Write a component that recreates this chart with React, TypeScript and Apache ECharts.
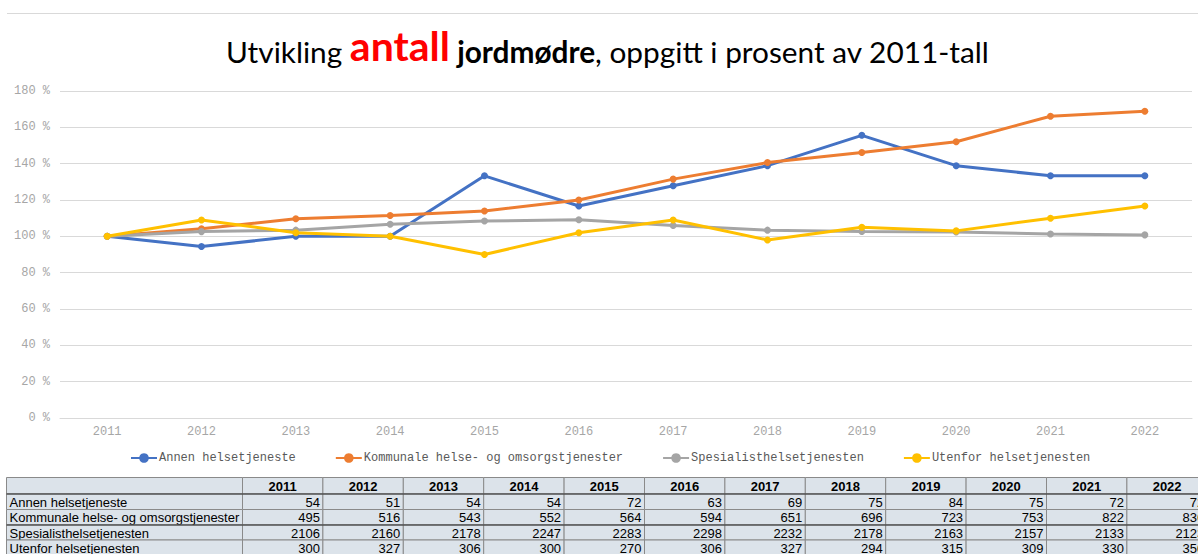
import React, { useEffect, useRef } from "react";
import * as echarts from "echarts";

const years = ["2011", "2012", "2013", "2014", "2015", "2016", "2017", "2018", "2019", "2020", "2021", "2022"];

const seriesNames = [
  "Annen helsetjeneste",
  "Kommunale helse- og omsorgstjenester",
  "Spesialisthelsetjenesten",
  "Utenfor helsetjenesten",
];

// Percent of 2011 value
const annenPct = [100, 94.4, 100, 100, 133.3, 116.7, 127.8, 138.9, 155.6, 138.9, 133.3, 133.3];
const kommunalePct = [100, 104.2, 109.7, 111.5, 113.9, 120.0, 131.5, 140.6, 146.1, 152.1, 166.1, 168.9];
const spesialistPct = [100, 102.6, 103.4, 106.7, 108.4, 109.1, 106.0, 103.4, 102.7, 102.4, 101.3, 100.8];
const utenforPct = [100, 109, 102, 100, 90, 102, 109, 98, 105, 103, 110, 116.7];

// Counts shown in the table below the chart
const annenCount = [54, 51, 54, 54, 72, 63, 69, 75, 84, 75, 72, 72];
const kommunaleCount = [495, 516, 543, 552, 564, 594, 651, 696, 723, 753, 822, 836];
const spesialistCount = [2106, 2160, 2178, 2247, 2283, 2298, 2232, 2178, 2163, 2157, 2133, 2123];
const utenforCount = [300, 327, 306, 300, 270, 306, 327, 294, 315, 309, 330, 350];

const yTicks = [0, 20, 40, 60, 80, 100, 120, 140, 160, 180];

const colors = ["#4472C4", "#ED7D31", "#A5A5A5", "#FFC000"];

function buildTable(): any[] {
  const els: any[] = [];
  const x0 = 6.5;
  const firstW = 236;
  const colW = 80.4;
  const rowTops = [477.5, 494, 509.5, 525, 540];
  const rowH = [16.5, 15.5, 15.5, 15, 15.5];
  const bg = "#DCE3EA";
  const border = "#8a8a8a";
  const rows = [annenCount, kommunaleCount, spesialistCount, utenforCount];
  const font = "'Liberation Sans', Arial, sans-serif";
  for (let r = 0; r < 5; r++) {
    const y = rowTops[r];
    const h = rowH[r];
    els.push({
      type: "rect",
      shape: { x: x0, y, width: firstW, height: h },
      style: { fill: bg, stroke: border, lineWidth: 1 },
      silent: true,
    });
    if (r > 0) {
      els.push({
        type: "text",
        x: x0 + 3,
        y: y + h / 2 + 0.5,
        style: {
          text: seriesNames[r - 1],
          fontFamily: font,
          fontSize: 13,
          fill: "#000",
          align: "left",
          verticalAlign: "middle",
        },
        silent: true,
      });
    }
    for (let c = 0; c < years.length; c++) {
      const cx = x0 + firstW + c * colW;
      els.push({
        type: "rect",
        shape: { x: cx, y, width: colW, height: h },
        style: { fill: bg, stroke: border, lineWidth: 1 },
        silent: true,
      });
      if (r === 0) {
        els.push({
          type: "text",
          x: cx + colW / 2,
          y: y + h / 2 + 0.5,
          style: {
            text: years[c],
            fontFamily: font,
            fontSize: 13,
            fontWeight: "bold",
            fill: "#000",
            align: "center",
            verticalAlign: "middle",
          },
          silent: true,
        });
      } else {
        els.push({
          type: "text",
          x: cx + colW - 3,
          y: y + h / 2 + 0.5,
          style: {
            text: String(rows[r - 1][c]),
            fontFamily: font,
            fontSize: 13,
            fill: "#000",
            align: "right",
            verticalAlign: "middle",
          },
          silent: true,
        });
      }
    }
  }
  els.push({
    type: "line",
    shape: { x1: x0, y1: 494, x2: 1198, y2: 494 },
    style: { stroke: "#333", lineWidth: 1.2 },
    silent: true,
  });
  els.push({
    type: "line",
    shape: { x1: x0, y1: 525, x2: 1198, y2: 525 },
    style: { stroke: "#333", lineWidth: 1.2 },
    silent: true,
  });
  return els;
}

export default function App() {
  const ref = useRef<HTMLDivElement>(null);
  useEffect(() => {
    if (!ref.current) return;
    const chart = echarts.init(ref.current, null, { renderer: "svg" });
    const pctSeries = [annenPct, kommunalePct, spesialistPct, utenforPct];
    const mono = "'Liberation Mono', 'Courier New', monospace";
    const titleFont = "Lato, 'Open Sans', sans-serif";
    chart.setOption({
      animation: false,
      backgroundColor: "#ffffff",
      title: {
        left: 226,
        top: 24,
        padding: 0,
        text: "{a|Utvikling }{b|antall}{c| jordmødre}{a|, oppgitt i prosent av 2011-tall}",
        textStyle: {
          fontWeight: "normal",
          rich: {
            a: { fontFamily: titleFont, fontSize: 29.8, fontWeight: "normal", color: "#000", lineHeight: 42, verticalAlign: "bottom" },
            b: { fontFamily: titleFont, fontSize: 41, fontWeight: "bold", color: "#FF0000", lineHeight: 42, verticalAlign: "bottom" },
            c: { fontFamily: titleFont, fontSize: 29.8, fontWeight: "bold", color: "#000", lineHeight: 42, verticalAlign: "bottom" },
          },
        },
      },
      legend: {
        left: 130,
        top: 452,
        padding: 0,
        itemWidth: 26,
        itemHeight: 12,
        itemGap: 39,
        data: seriesNames,
        textStyle: { fontFamily: mono, fontSize: 12, color: "#595959", padding: [0, 0, 0, -3] },
      },
      grid: { left: 60, right: 6, top: 91, bottom: 136, containLabel: false },
      xAxis: {
        type: "category",
        data: years,
        boundaryGap: true,
        axisLine: { lineStyle: { color: "#D9D9D9", width: 1 } },
        axisTick: { show: false },
        axisLabel: { fontFamily: mono, fontSize: 12, color: "#A6A6A6", margin: 8 },
      },
      yAxis: {
        type: "value",
        min: yTicks[0],
        max: yTicks[yTicks.length - 1],
        interval: 20,
        axisLine: { show: false },
        axisTick: { show: false },
        splitLine: { lineStyle: { color: "#D9D9D9", width: 1 } },
        axisLabel: { fontFamily: mono, fontSize: 12, color: "#A6A6A6", margin: 10, formatter: "{value} %" },
      },
      series: seriesNames.map((name, i) => ({
        name,
        type: "line",
        data: pctSeries[i],
        color: colors[i],
        lineStyle: { width: 3, color: colors[i] },
        itemStyle: { color: colors[i] },
        symbol: "circle",
        symbolSize: 7,
        showSymbol: true,
        z: i === 3 ? 5 : 2 + i,
      })),
      graphic: [
        {
          type: "line",
          shape: { x1: 7, y1: 13.5, x2: 1198, y2: 13.5 },
          style: { stroke: "#D9D9D9", lineWidth: 1 },
          silent: true,
        },
        ...buildTable(),
      ],
    });
    return () => chart.dispose();
  }, []);
  return (
    <div
      ref={ref}
      style={{ position: "absolute", left: 0, top: 0, width: 1198, height: 554, background: "#fff" }}
    />
  );
}
